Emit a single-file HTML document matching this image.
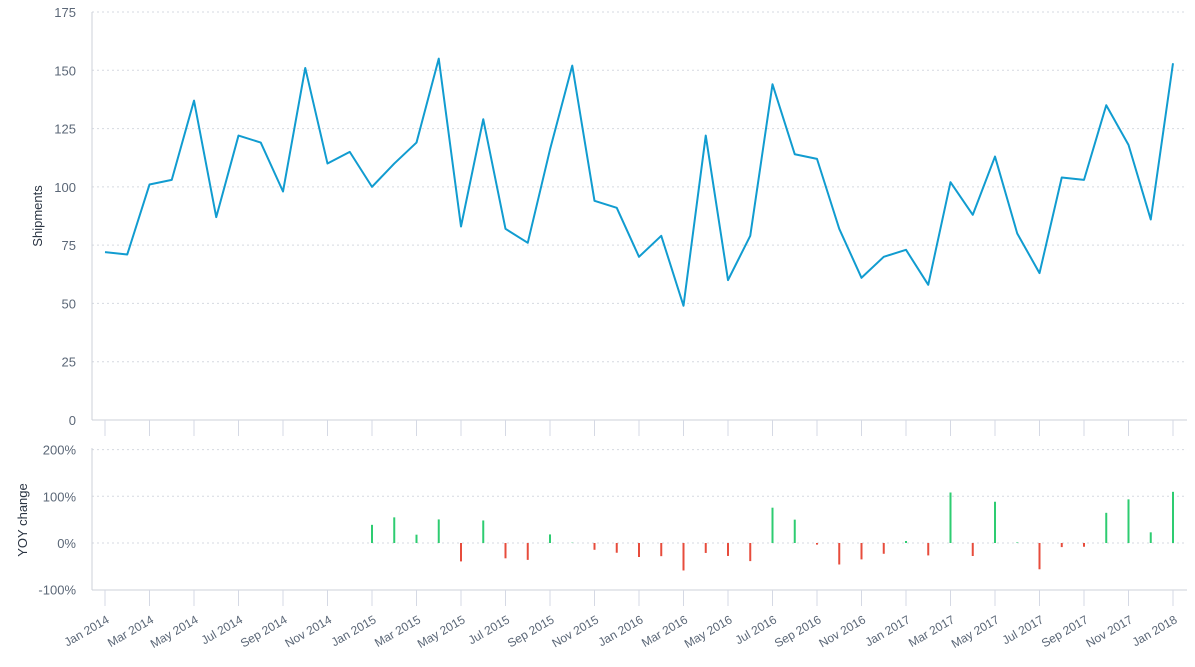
<!DOCTYPE html><html><head><meta charset="utf-8"><style>body{margin:0;background:#fff}svg{display:block}text{font-family:"Liberation Sans",sans-serif;fill:#5b6777;font-size:13px}</style></head><body>
<svg id="s" width="1195" height="667" xmlns="http://www.w3.org/2000/svg"></svg>
<script>
const d=[72,71,101,103,137,87,122,119,98,151,110,115,100,110,119,155,83,129,82,76,116,152,94,91,70,79,49,122,60,79,144,114,112,82,61,70,73,58,102,88,113,80,63,104,103,135,118,86,153];
const X=i=>105+i*22.25, Y=v=>420-v*408/175, Y2=p=>543-p*0.467;
let h='';
for(let v=0;v<=175;v+=25){const y=Y(v);if(v>0)h+=`<line x1="92" x2="1187" y1="${y}" y2="${y}" stroke="#d5d9e0" stroke-dasharray="2,3"/>`;h+=`<text x="76" y="${y+5}" text-anchor="end">${v}</text>`;}
for(let p=-100;p<=200;p+=100){const y=Y2(p);if(p>-100)h+=`<line x1="92" x2="1187" y1="${y}" y2="${y}" stroke="#d5d9e0" stroke-dasharray="2,3"/>`;h+=`<text x="76" y="${y+5}" text-anchor="end">${p}%</text>`;}
h+=`<line x1="92" x2="92" y1="12" y2="420" stroke="#ccd0d8"/><line x1="92" x2="1187" y1="420" y2="420" stroke="#ccd0d8"/>`;
h+=`<line x1="92" x2="92" y1="448" y2="590" stroke="#ccd0d8"/><line x1="92" x2="1187" y1="590" y2="590" stroke="#ccd0d8"/>`;
const M=['Jan','Mar','May','Jul','Sep','Nov'];
for(let i=0;i<=48;i+=2){const x=X(i);h+=`<line x1="${x}" x2="${x}" y1="420" y2="436" stroke="#d5d9e4"/><line x1="${x}" x2="${x}" y1="590" y2="606" stroke="#d5d9e4"/>`;
h+=`<text transform="translate(${x+5},${622}) rotate(-30)" text-anchor="end" style="font-size:12px">${M[(i%12)/2]} ${2014+Math.floor(i/12)}</text>`;}
h+=`<text transform="translate(42,216) rotate(-90)" text-anchor="middle" style="fill:#2a3442;font-size:13px">Shipments</text>`;
h+=`<text transform="translate(27,520) rotate(-90)" text-anchor="middle" style="fill:#2a3442;font-size:13px">YOY change</text>`;
for(let i=12;i<49;i++){const p=(d[i]/d[i-12]-1)*100;const y=Y2(p);h+=`<line x1="${X(i)}" x2="${X(i)}" y1="543" y2="${y}" stroke="${p>=0?'#2ecc71':'#e74c3c'}" stroke-width="2"/>`;}
h+=`<polyline fill="none" stroke="#119cd0" stroke-width="2" stroke-linejoin="round" points="${d.map((v,i)=>X(i)+','+Y(v)).join(' ')}"/>`;
document.getElementById('s').innerHTML=h;
</script></body></html>
